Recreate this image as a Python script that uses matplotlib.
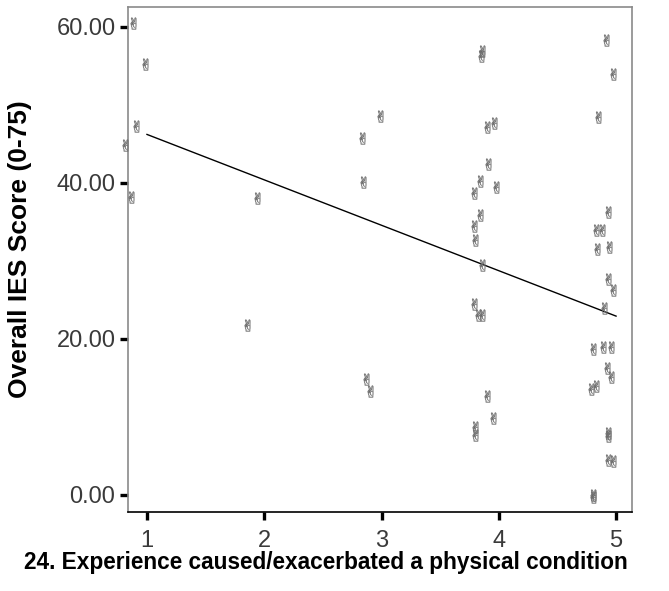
import matplotlib
matplotlib.use("Agg")
import matplotlib.pyplot as plt

# jittered category positions (1-5) and IES scores
x_vals = [
    0.88, 0.98, 0.91, 0.81, 0.86,
    1.94, 1.85,
    2.83, 2.99, 2.84, 2.87, 2.90,
    3.85, 3.86, 3.90, 3.96, 3.91, 3.84, 3.79, 3.98, 3.84, 3.79, 3.80, 3.86,
    3.79, 3.82, 3.86, 3.90, 3.95, 3.80, 3.80,
    4.91, 4.97, 4.85, 4.93, 4.83, 4.88, 4.84, 4.94, 4.93, 4.97, 4.90,
    4.80, 4.89, 4.96, 4.92, 4.96, 4.79, 4.83, 4.93, 4.93, 4.93, 4.97, 4.80, 4.80,
]
y_vals = [
    60.5, 55.2, 47.3, 44.8, 38.2,
    38.0, 21.8,
    45.8, 48.5, 40.1, 14.8, 13.3,
    56.3, 56.9, 47.1, 47.7, 42.4, 40.2, 38.7, 39.4, 35.9, 34.5, 32.6, 29.4,
    24.5, 23.0, 23.0, 12.7, 9.8, 8.7, 7.7,
    58.3, 54.0, 48.4, 36.3, 33.9, 33.9, 31.5, 31.8, 27.6, 26.3, 23.9,
    18.7, 18.9, 18.9, 16.3, 15.1, 13.6, 14.0, 7.9, 7.5, 4.5, 4.3, -0.3, 0.0,
]

# linear fit line end points
fit_x = [1.0, 5.0]
fit_y = [46.2, 22.9]

y_ticks = [0, 20, 40, 60]
x_ticks = [1, 2, 3, 4, 5]

plt.rcParams["font.family"] = ["Liberation Sans", "DejaVu Sans"]
plt.rcParams["mathtext.fontset"] = "dejavusans"

fig = plt.figure(figsize=(6.69, 5.91), dpi=100)
ax = fig.add_axes([0.1913, 0.1337, 0.7534, 0.8539])

# victory-hand glyph used as the point marker
ax.scatter(x_vals, y_vals, marker="$\u270c$", s=72, c="#7c7c7c",
           linewidths=0.25, edgecolors="#6a6a6a", clip_on=False, zorder=3)

ax.plot(fit_x, fit_y, color="black", linewidth=1.0, zorder=2)

ax.set_xlim(0.838, 5.136)
ax.set_ylim(-2.22, 62.5)
ax.set_xticks(x_ticks)
ax.set_xticklabels([str(t) for t in x_ticks])
ax.set_yticks(y_ticks)
ax.set_yticklabels([f"{t:.2f}" for t in y_ticks])

ax.tick_params(axis="both", direction="out", length=6, width=2.4, color="black",
               labelsize=17, labelcolor="#3a3a3a")
ax.tick_params(axis="x", pad=7)
ax.tick_params(axis="y", pad=3)

for side in ("left", "top", "right"):
    ax.spines[side].set_color("#8a8a8a")
    ax.spines[side].set_linewidth(1.2)
ax.spines["bottom"].set_color("black")
ax.spines["bottom"].set_linewidth(1.2)

ax.set_xlabel("24. Experience caused/exacerbated a physical condition",
              fontsize=16.3, fontweight="bold")
ax.xaxis.set_label_coords(0.393, -0.078)
ax.set_ylabel("Overall IES Score (0-75)", fontsize=19, fontweight="bold")
ax.yaxis.set_label_coords(-0.19, 0.52)

fig.savefig("out.png", dpi=100)
